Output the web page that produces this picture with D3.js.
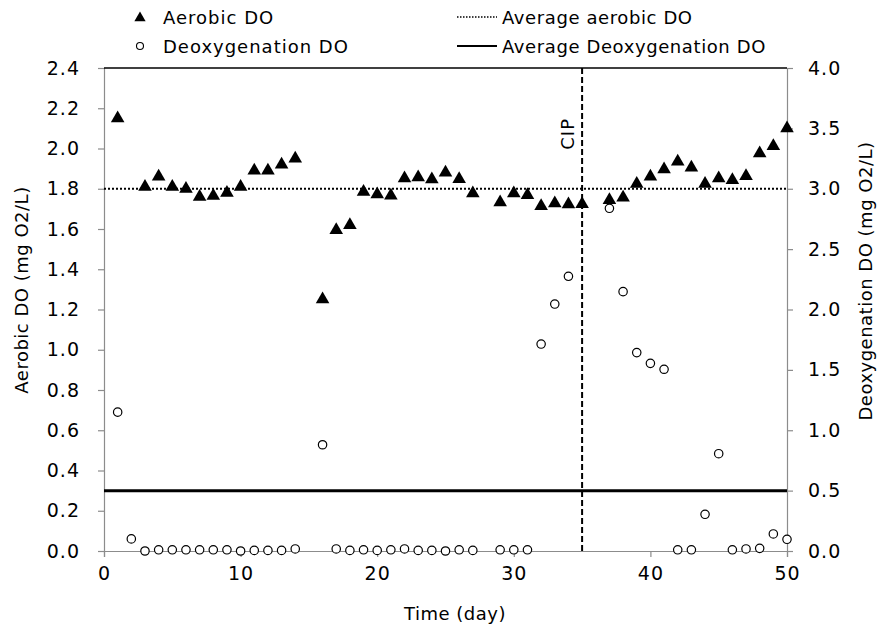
<!DOCTYPE html>
<html>
<head>
<meta charset="utf-8">
<script src="https://cdn.jsdelivr.net/npm/d3@7"></script>
<style>
  body { margin: 0; background: #fff; }
  text { font-family: "DejaVu Sans", Verdana, sans-serif; fill: #000; }
</style>
</head>
<body>
<div id="chart"></div>
<script>
// data
var aerobicDays = [1, 3, 4, 5, 6, 7, 8, 9, 10, 11, 12, 13, 14, 16, 17, 18, 19, 20, 21, 22, 23, 24, 25, 26, 27,
    29, 30, 31, 32, 33, 34, 35, 37, 38, 39, 40, 41, 42, 43, 44, 45, 46, 47, 48, 49, 50];
var aerobicDO = [2.15, 1.81, 1.86, 1.81, 1.80, 1.76, 1.765, 1.78, 1.81, 1.89, 1.89, 1.92, 1.95,
    1.25, 1.595, 1.62, 1.785, 1.772, 1.766, 1.852, 1.857, 1.847, 1.88, 1.848, 1.777,
    1.733, 1.777, 1.769, 1.714, 1.728, 1.723, 1.724,
    1.744, 1.756, 1.824, 1.86, 1.897, 1.935, 1.905, 1.824, 1.852, 1.843, 1.863, 1.976, 2.012, 2.10];
var deoxDays = [1, 2, 3, 4, 5, 6, 7, 8, 9, 10, 11, 12, 13, 14, 16, 17, 18, 19, 20, 21, 22, 23, 24, 25, 26, 27,
    29, 30, 31, 32, 33, 34, 37, 38, 39, 40, 41, 42, 43, 44, 45, 46, 47, 48, 49, 50];
var deoxDO = [1.15, 0.10, 0.0, 0.01, 0.01, 0.01, 0.01, 0.01, 0.01, 0.0, 0.005, 0.005, 0.005, 0.017,
    0.88, 0.017, 0.005, 0.01, 0.005, 0.01, 0.017, 0.005, 0.005, 0.0, 0.01, 0.005,
    0.01, 0.01, 0.01, 1.714, 2.045, 2.275,
    2.838, 2.148, 1.643, 1.554, 1.505, 0.01, 0.01, 0.304, 0.806, 0.01, 0.017, 0.022, 0.141, 0.097];
var avgAerobic = 1.8;
var avgDeox = 0.5;
var cipDay = 35;
var leftTicks = [0, 0.2, 0.4, 0.6, 0.8, 1.0, 1.2, 1.4, 1.6, 1.8, 2.0, 2.2, 2.4];
var rightTicks = [0, 0.5, 1.0, 1.5, 2.0, 2.5, 3.0, 3.5, 4.0];
var xTicks = [0, 10, 20, 30, 40, 50];

var svgWidth = 879;
var svgHeight = 628;
var margin = { top: 68, right: 92, bottom: 77, left: 104 };
var width = svgWidth - margin.left - margin.right;
var height = svgHeight - margin.top - margin.bottom;

var svg = d3.select("#chart")
    .append("svg")
    .attr("width", svgWidth)
    .attr("height", svgHeight);

var chartGroup = svg.append("g")
    .attr("transform", `translate(${margin.left}, ${margin.top})`);

// scales
var xScale = d3.scaleLinear().domain([0, 50]).range([0, width]);
var yLeft = d3.scaleLinear().domain([0, 2.4]).range([height, 0]);
var yRight = d3.scaleLinear().domain([0, 4]).range([height, 0]);

var axisGray = "#8c8c8c";
var fontSize = "18px";
var tickFont = "19px";

// axes
var bottomAxis = d3.axisBottom(xScale).tickValues(xTicks).tickSize(6).tickPadding(10)
    .tickFormat(d3.format("d"));
var leftAxis = d3.axisLeft(yLeft).tickValues(leftTicks).tickSize(6).tickPadding(18)
    .tickFormat(d3.format(".1f"));
var rightAxis = d3.axisRight(yRight).tickValues(rightTicks).tickSize(6).tickPadding(15)
    .tickFormat(d3.format(".1f"));

function styleAxis(g) {
    g.select(".domain").attr("stroke", axisGray).attr("stroke-width", 1.2);
    g.selectAll(".tick line").attr("stroke", axisGray).attr("stroke-width", 1.2);
    g.selectAll(".tick text").attr("font-size", tickFont).attr("letter-spacing", "1px")
        .attr("font-family", "DejaVu Sans").attr("fill", "#000");
}

chartGroup.append("g")
    .attr("transform", `translate(0, ${height})`)
    .call(bottomAxis)
    .call(styleAxis);
chartGroup.append("g")
    .call(leftAxis)
    .call(styleAxis);
chartGroup.append("g")
    .attr("transform", `translate(${width}, 0)`)
    .call(rightAxis)
    .call(styleAxis);

// top border
chartGroup.append("line")
    .attr("x1", 0).attr("x2", width)
    .attr("y1", 0).attr("y2", 0)
    .attr("stroke", "#000").attr("stroke-width", 1.5);

// average lines
chartGroup.append("line")
    .attr("x1", 0).attr("x2", width)
    .attr("y1", yLeft(avgAerobic)).attr("y2", yLeft(avgAerobic))
    .attr("stroke", "#000").attr("stroke-width", 2)
    .attr("stroke-dasharray", "2,2");
chartGroup.append("line")
    .attr("x1", 0).attr("x2", width)
    .attr("y1", yRight(avgDeox)).attr("y2", yRight(avgDeox))
    .attr("stroke", "#000").attr("stroke-width", 3);

// CIP line
chartGroup.append("line")
    .attr("x1", xScale(cipDay)).attr("x2", xScale(cipDay))
    .attr("y1", 0).attr("y2", height)
    .attr("stroke", "#000").attr("stroke-width", 2)
    .attr("stroke-dasharray", "6,3");
chartGroup.append("text")
    .attr("transform", `translate(${xScale(cipDay) - 8}, 50) rotate(-90)`)
    .attr("text-anchor", "end")
    .attr("font-size", fontSize)
    .attr("letter-spacing", "1px")
    .text("CIP");

// triangles
var tri = d3.symbol().type(d3.symbolTriangle).size(80);
chartGroup.selectAll(".aer")
    .data(aerobicDays)
    .enter()
    .append("path")
    .attr("class", "aer")
    .attr("d", tri)
    .attr("transform", (d, i) => `translate(${xScale(d)}, ${yLeft(aerobicDO[i])})`)
    .attr("fill", "#000");

// circles
chartGroup.selectAll(".deox")
    .data(deoxDays)
    .enter()
    .append("circle")
    .attr("class", "deox")
    .attr("cx", d => xScale(d))
    .attr("cy", (d, i) => yRight(deoxDO[i]))
    .attr("r", 4.2)
    .attr("fill", "#fff")
    .attr("stroke", "#000")
    .attr("stroke-width", 1.2);

// axis titles
svg.append("text")
    .attr("transform", "translate(28, 290) rotate(-90)")
    .attr("text-anchor", "middle")
    .attr("font-size", fontSize)
    .attr("letter-spacing", "0.5px")
    .text("Aerobic DO (mg O2/L)");
svg.append("text")
    .attr("transform", "translate(872, 281) rotate(-90)")
    .attr("text-anchor", "middle")
    .attr("font-size", fontSize)
    .attr("letter-spacing", "0.5px")
    .text("Deoxygenation DO (mg O2/L)");
svg.append("text")
    .attr("x", 455)
    .attr("y", 620)
    .attr("text-anchor", "middle")
    .attr("font-size", fontSize)
    .attr("letter-spacing", "0.5px")
    .text("Time (day)");

// legend
var legend = svg.append("g");
legend.append("path")
    .attr("d", d3.symbol().type(d3.symbolTriangle).size(55))
    .attr("transform", "translate(140, 18)")
    .attr("fill", "#000");
legend.append("text").attr("x", 163).attr("y", 24)
    .attr("font-size", fontSize).attr("letter-spacing", "1px").text("Aerobic DO");
legend.append("circle")
    .attr("cx", 140).attr("cy", 46).attr("r", 3.5)
    .attr("fill", "#fff").attr("stroke", "#000").attr("stroke-width", 1.1);
legend.append("text").attr("x", 163).attr("y", 53)
    .attr("font-size", fontSize).attr("letter-spacing", "1px").text("Deoxygenation DO");
legend.append("line")
    .attr("x1", 457).attr("x2", 497).attr("y1", 17).attr("y2", 17)
    .attr("stroke", "#000").attr("stroke-width", 1.5).attr("stroke-dasharray", "1.5,1.5");
legend.append("text").attr("x", 502).attr("y", 24)
    .attr("font-size", fontSize).attr("letter-spacing", "0.6px").text("Average aerobic DO");
legend.append("line")
    .attr("x1", 457).attr("x2", 497).attr("y1", 46).attr("y2", 46)
    .attr("stroke", "#000").attr("stroke-width", 2);
legend.append("text").attr("x", 502).attr("y", 53)
    .attr("font-size", fontSize).attr("letter-spacing", "0.6px").text("Average Deoxygenation DO");
</script>
</body>
</html>
